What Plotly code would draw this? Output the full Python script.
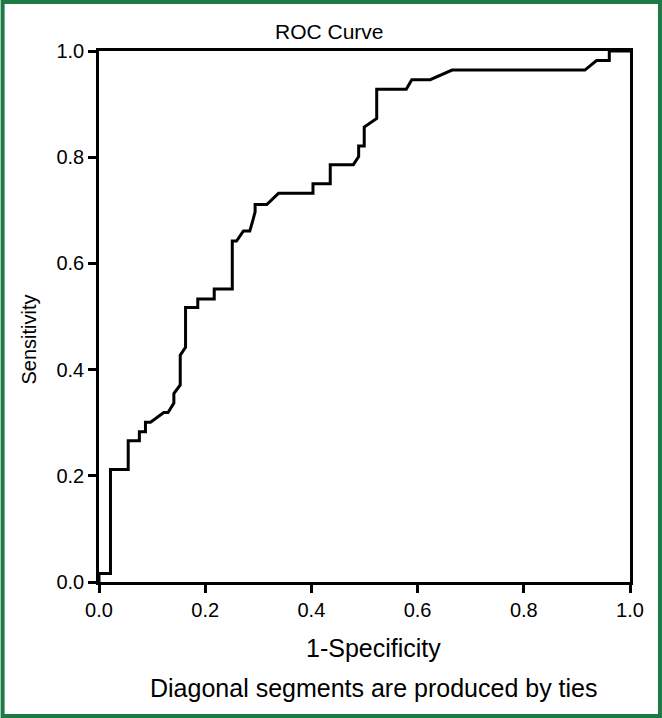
import plotly.graph_objects as go

# ROC curve vertices
fpr = [0.0, 0.0, 0.0216, 0.0216, 0.055, 0.055, 0.076, 0.076, 0.0875, 0.0875, 0.097,
       0.122, 0.130, 0.141, 0.141, 0.153, 0.153, 0.163, 0.163, 0.186, 0.186, 0.217,
       0.217, 0.251, 0.251, 0.259, 0.272, 0.284, 0.290, 0.294, 0.294, 0.316, 0.338,
       0.403, 0.403, 0.4355, 0.4355, 0.479, 0.489, 0.489, 0.4995, 0.4995, 0.523, 0.523,
       0.5786, 0.589, 0.6237, 0.665, 0.915, 0.937, 0.961, 0.961, 1.0]
tpr = [0.0, 0.016, 0.016, 0.212, 0.212, 0.266, 0.266, 0.283, 0.283, 0.301, 0.301,
       0.319, 0.319, 0.337, 0.355, 0.371, 0.427, 0.442, 0.517, 0.517, 0.533, 0.533,
       0.552, 0.552, 0.642, 0.642, 0.661, 0.661, 0.682, 0.697, 0.711, 0.711, 0.732,
       0.732, 0.750, 0.750, 0.786, 0.786, 0.801, 0.821, 0.821, 0.857, 0.873, 0.928,
       0.928, 0.946, 0.946, 0.964, 0.964, 0.982, 0.982, 1.0, 1.0]

tick_vals = [0.0, 0.2, 0.4, 0.6, 0.8, 1.0]
tick_text = ["0.0", "0.2", "0.4", "0.6", "0.8", "1.0"]

title_text = "ROC Curve"
x_title = "1-Specificity"
y_title = "Sensitivity"
footnote = "Diagonal segments are produced by ties"

W, H = 662, 718
L, R, T, B = 98.5, 32, 51, 136
PW, PH = W - L - R, H - T - B
FONT = "Liberation Sans, Arial, sans-serif"


def px(x):
    return (x - L) / PW


def py(y):
    return (H - B - y) / PH


fig = go.Figure()
fig.add_trace(go.Scatter(x=fpr, y=tpr, mode="lines",
                         line=dict(color="black", width=3),
                         showlegend=False, hoverinfo="skip"))

axis_common = dict(range=[0, 1], tickvals=tick_vals, ticktext=tick_text,
                   showgrid=False, zeroline=False, showline=True, mirror=True,
                   linecolor="black", linewidth=2.5, ticks="outside", ticklen=8,
                   tickwidth=2.5, tickcolor="black",
                   tickfont=dict(family=FONT, size=20, color="black"))
fig.update_xaxes(**axis_common)
fig.update_yaxes(**axis_common)

annotations = [
    dict(text=title_text, x=px(329), y=py(31), size=21),
    dict(text=x_title, x=px(373), y=py(648), size=25),
    dict(text=footnote, x=px(374), y=py(688), size=25),
]
ann = []
for a in annotations:
    ann.append(dict(text=a["text"], x=a["x"], y=a["y"], xref="paper", yref="paper",
                    showarrow=False, xanchor="center", yanchor="middle",
                    font=dict(family=FONT, size=a["size"], color="black")))
ann.append(dict(text=y_title, x=px(28), y=py(340), xref="paper", yref="paper",
                showarrow=False, xanchor="center", yanchor="middle", textangle=-90,
                font=dict(family=FONT, size=20, color="black")))

fig.update_layout(
    width=W, height=H,
    margin=dict(l=L, r=R, t=T, b=B, pad=0),
    paper_bgcolor="white", plot_bgcolor="white",
    annotations=ann,
    shapes=[dict(type="rect", xref="paper", yref="paper",
                 x0=px(2), x1=px(W - 2), y0=py(H - 2), y1=py(2),
                 line=dict(color="#1d7a45", width=4), layer="above")],
)

fig.write_html("out.html", config={"displayModeBar": False},
               post_script="document.body.style.margin='0';document.body.style.overflow='hidden';")
